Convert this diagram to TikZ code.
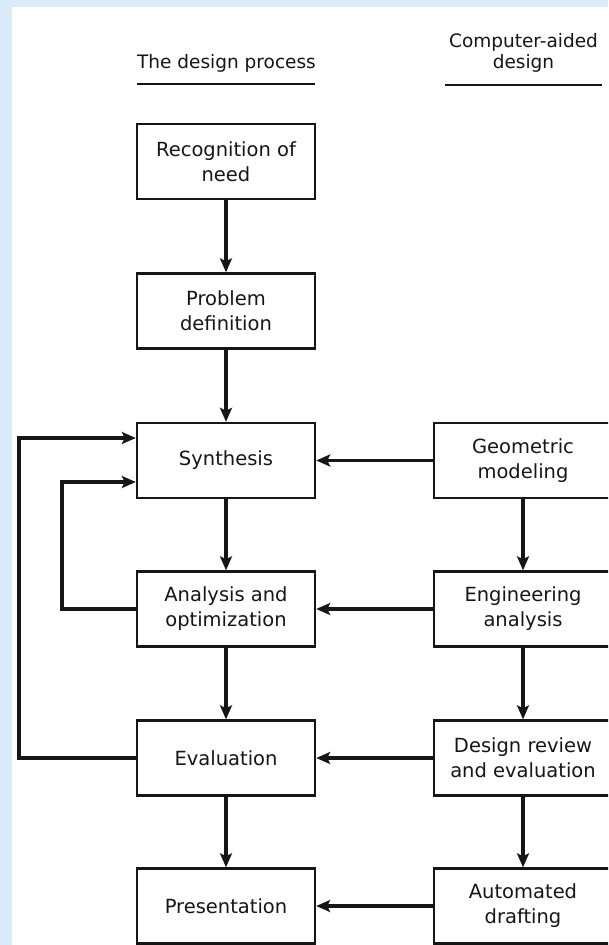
\documentclass[tikz,border=0pt]{standalone}
\usepackage{fontspec}
\setmainfont{DejaVu Sans}
\usetikzlibrary{arrows.meta}
\definecolor{ink}{HTML}{161616}
\definecolor{bgblue}{HTML}{D9EBF8}
\begin{document}
\begin{tikzpicture}[x=1pt,y=-1pt,
  stepbox/.style={draw=ink, line width=2.4pt, minimum width=178pt,
    minimum height=75pt, align=center, inner sep=0pt, text=ink,
    font=\fontsize{19.5}{25}\selectfont},
  flow/.style={draw=ink, line width=3.6pt,
    -{Stealth[length=14pt,width=12pt,inset=3pt]}},
  head/.style={text=ink, align=center, font=\fontsize{18.5}{21}\selectfont},
  rule/.style={draw=ink, line width=2.4pt}
]
\useasboundingbox (0,0) rectangle (608,945);
% page background and white sheet
\fill[bgblue] (0,0) rectangle (608,945);
\fill[white] (12,7) rectangle (608,945);
\begin{scope}
\clip (12,7) rectangle (608,945);

% column headings
\node[head, anchor=base] (hdp) at (226.5,68) {The design process};
\draw[rule] (137,84) -- (315,84);
\node[head] (hcad) at (523.5,53) {Computer-aided\\design};
\draw[rule] (445,85) -- (602,85);

% design process column
\node[stepbox] (rec)  at (226,161.5) {Recognition of\\need};
\node[stepbox] (prob) at (226,311)   {Problem\\definition};
\node[stepbox] (syn)  at (226,460.5) {Synthesis};
\node[stepbox] (ana)  at (226,609)   {Analysis and\\optimization};
\node[stepbox] (eval) at (226,758)   {Evaluation};
\node[stepbox] (pres) at (226,906)   {Presentation};

% computer-aided design column
\node[stepbox] (geo)  at (523,460.5) {Geometric\\modeling};
\node[stepbox] (eng)  at (523,609)   {Engineering\\analysis};
\node[stepbox] (rev)  at (523,758)   {Design review\\and evaluation};
\node[stepbox] (draft) at (523,906)  {Automated\\drafting};

% main flow
\draw[flow] (rec) -- (prob);
\draw[flow] (prob) -- (syn);
\draw[flow] (syn) -- (ana);
\draw[flow] (ana) -- (eval);
\draw[flow] (eval) -- (pres);

\draw[flow] (geo) -- (eng);
\draw[flow] (eng) -- (rev);
\draw[flow] (rev) -- (draft);

% CAD support for each stage
\draw[flow] (geo) -- (syn);
\draw[flow] (eng) -- (ana);
\draw[flow] (rev) -- (eval);
\draw[flow] (draft) -- (pres);

% feedback loops
\draw[flow] (eval.west) -- ++(-117,0) |- ([yshift=22.5pt]syn.west);
\draw[flow] (ana.west) -- ++(-74,0) |- ([yshift=-21.5pt]syn.west);
\end{scope}
\end{tikzpicture}
\end{document}
